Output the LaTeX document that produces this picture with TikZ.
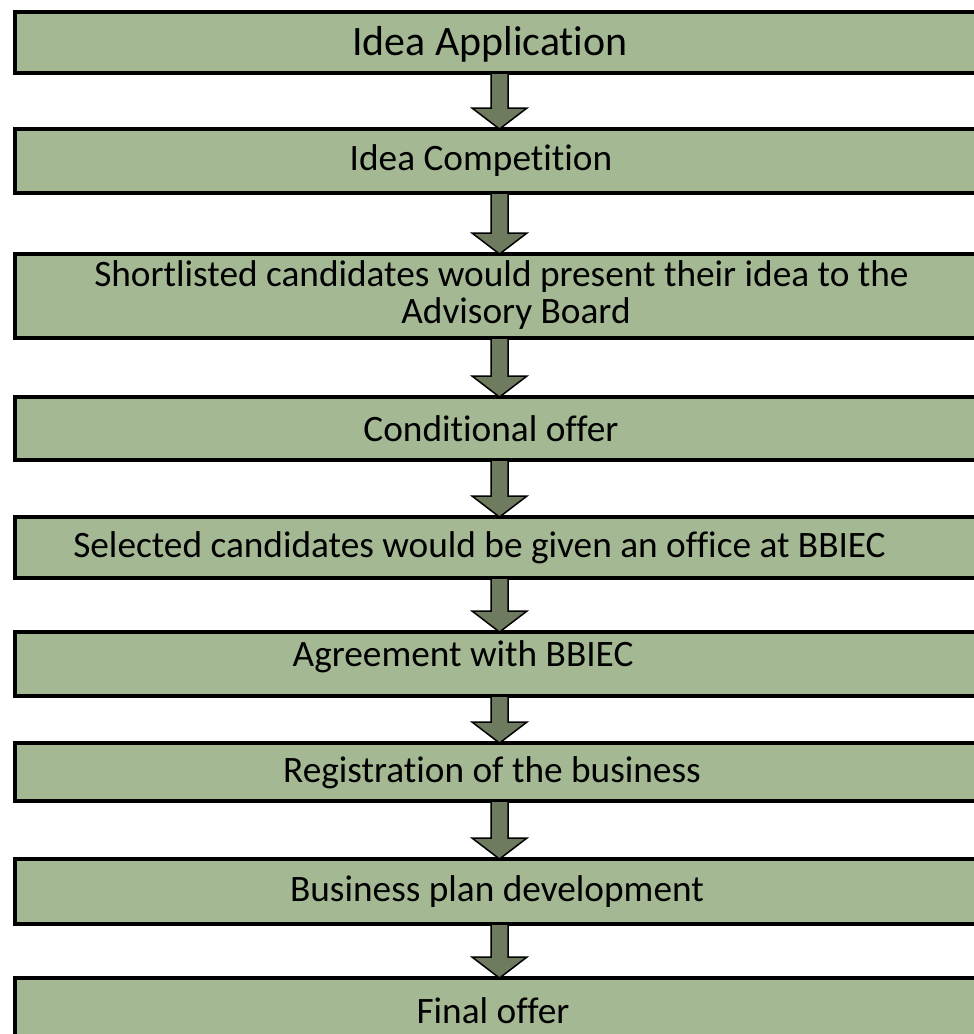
\documentclass[tikz,border=0pt]{standalone}
\usepackage{fontspec}
\setmainfont{Carlito}[RawFeature={-liga;-clig}]
\usetikzlibrary{calc}
\definecolor{stagegreen}{RGB}{164,185,147}
\definecolor{arrowgreen}{RGB}{111,123,95}
\tikzset{
	stage/.style={rectangle, draw=black, fill=stagegreen, line width=4pt,
		minimum width=969pt, outer sep=0pt, inner sep=0pt},
	stagetext/.style={font=\fontsize{37.3}{37}\selectfont, align=center, inner sep=0pt},
	bigarrow/.style={draw=black, fill=arrowgreen, line width=1.5pt,
		to path={let \p1=(\tikztostart), \p2=(\tikztotarget) in
			(\x1-8.5pt,\y1) -- (\x1+8.5pt,\y1) -- (\x1+8.5pt,\y2+21pt) -- (\x1+27.5pt,\y2+21pt)
			-- (\x1,\y2) -- (\x1-27.5pt,\y2+21pt) -- (\x1-8.5pt,\y2+21pt) -- cycle}}
}
\begin{document}
\begin{tikzpicture}[x=1pt, y=-1pt]
	\useasboundingbox (0,0) rectangle (974,1034);
	% stages
	\node [stage, minimum height=61pt] (app) at (499.5,42.5) {};
	\node [stage, minimum height=64pt] (comp) at (499.5,161) {};
	\node [stage, minimum height=84pt] (board) at (499.5,296) {};
	\node [stage, minimum height=63pt] (cond) at (499.5,428.5) {};
	\node [stage, minimum height=61pt] (office) at (499.5,547.5) {};
	\node [stage, minimum height=64pt] (agree) at (499.5,664) {};
	\node [stage, minimum height=58pt] (reg) at (499.5,772) {};
	\node [stage, minimum height=65pt] (plan) at (499.5,891.5) {};
	\node [stage, minimum height=72pt] (final) at (499.5,1014) {};
	% texts
	\node [stagetext, font=\fontsize{41.9}{42}\selectfont] (tapp) at (490,44) {Idea Application};
	\node [stagetext] (tcomp) at (481,161) {Idea Competition};
	\node [stagetext] (tboard) at (501.5,295) {Shortlisted candidates would present their idea to the\\\hspace*{29pt}Advisory Board};
	\node [stagetext] (tcond) at (491,428.5) {Conditional offer};
	\node [stagetext] (toffice) at (479.5,547.5) {Selected candidates would be given an office at BBIEC};
	\node [stagetext] (tagree) at (463,657) {Agreement with BBIEC};
	\node [stagetext] (treg) at (492,773) {Registration of the business};
	\node [stagetext] (tplan) at (497,891.5) {Business plan development};
	\node [stagetext] (tfinal) at (493,1011) {Final offer};
	% arrows
	\draw [bigarrow] (app.south) to (comp.north);
	\draw [bigarrow] (comp.south) to (board.north);
	\draw [bigarrow] (board.south) to (cond.north);
	\draw [bigarrow] (cond.south) to (office.north);
	\draw [bigarrow] (office.south) to (agree.north);
	\draw [bigarrow] (agree.south) to (reg.north);
	\draw [bigarrow] (reg.south) to (plan.north);
	\draw [bigarrow] (plan.south) to (final.north);
\end{tikzpicture}
\end{document}
